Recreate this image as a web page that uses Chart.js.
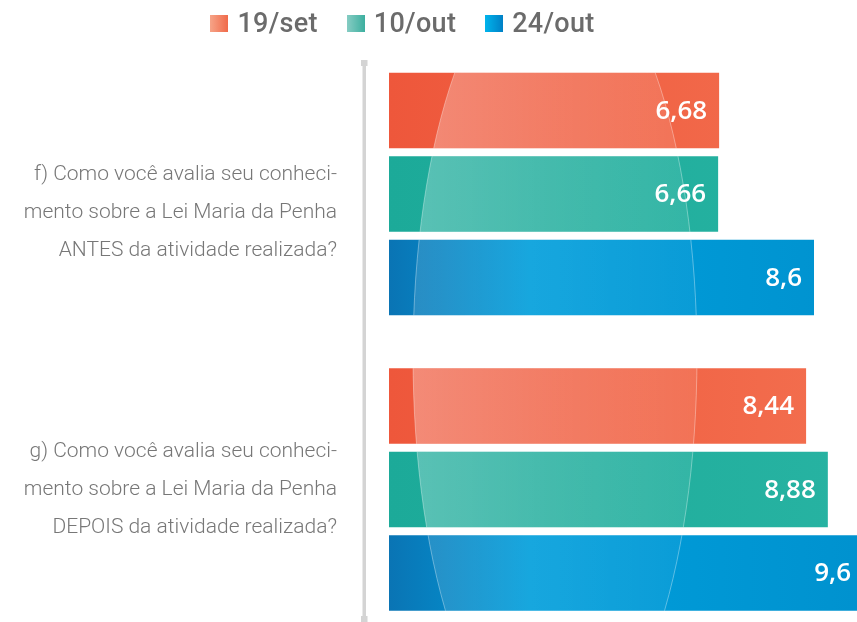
<!DOCTYPE html>
<html>
<head>
<meta charset="utf-8">
<script src="https://cdn.jsdelivr.net/npm/chart.js@4/dist/chart.umd.min.js"></script>
<style>
  html, body { margin: 0; padding: 0; background: #ffffff; }
  #wrap { position: relative; width: 857px; height: 622px; overflow: hidden; }
  #legend { position: absolute; top: 7px; left: 0; width: 805px; display: flex; justify-content: center; gap: 29px;
            font-family: Roboto, sans-serif; font-weight: 500; font-size: 27px; letter-spacing: 0.3px; color: #6b6b6b; z-index: 2; }
  .item { display: flex; align-items: center; }
  .box { width: 18px; height: 17px; margin-right: 9px; }
  canvas { position: absolute; left: 0; top: 0; }
</style>
</head>
<body>
<div id="wrap">
  <div id="legend"></div>
  <canvas id="c" width="857" height="622"></canvas>
</div>
<script>
// ---- data ----
const categories = [
  ["f) Como você avalia seu conheci-", "mento sobre a Lei Maria da Penha", "ANTES da atividade realizada?"],
  ["g) Como você avalia seu conheci-", "mento sobre a Lei Maria da Penha", "DEPOIS da atividade realizada?"]
];
const seriesNames = ["19/set", "10/out", "24/out"];
const set19 = [6.68, 8.44];
const out10 = [6.66, 8.88];
const out24 = [8.6, 9.6];

// ---- styles ----
const gradStops = [
  [[0, "#ee573b"], [1, "#f36f4f"]],
  [[0, "#1caa99"], [1, "#27b3a2"]],
  [[0, "#0a74b4"], [0.3, "#009edb"], [1, "#0092cf"]]
];
const glossStrength = [1, 0.9, 0.45];
const legendGrad = [
  "linear-gradient(to right, #f6a488, #f06a4a)",
  "linear-gradient(to right, #86ccc3, #3caf9f)",
  "linear-gradient(to right, #00b4ec, #0080c6)"
];

const legend = document.getElementById('legend');
seriesNames.forEach((n, i) => {
  const it = document.createElement('div'); it.className = 'item';
  const b = document.createElement('div'); b.className = 'box'; b.style.background = legendGrad[i];
  const t = document.createElement('span'); t.textContent = n;
  it.appendChild(b); it.appendChild(t); legend.appendChild(it);
});

const seriesValues = [set19, out10, out24];

function makeGrad(i) {
  return function(ctx) {
    const chart = ctx.chart; const a = chart.chartArea;
    if (!a) return gradStops[i][0][1];
    const x0 = chart.scales.x.getPixelForValue(0);
    const g = chart.ctx.createLinearGradient(x0, 0, a.right, 0);
    gradStops[i].forEach(s => g.addColorStop(s[0], s[1]));
    return g;
  };
}

const datasets = seriesValues.map((vals, i) => ({
  label: seriesNames[i],
  data: vals.map((v, k) => ({ x: v, y: k })),
  backgroundColor: makeGrad(i),
  borderWidth: 0,
  categoryPercentage: 0.848,
  barPercentage: 0.904
}));

const decor = {
  id: 'decor',
  beforeDatasetsDraw(chart) {
    const { ctx, chartArea: a } = chart;
    ctx.save();
    ctx.fillStyle = '#d4d4d4';
    ctx.fillRect(a.left - 1.5, a.top - 2, 3.5, a.bottom - a.top + 4);
    ctx.fillRect(a.left - 3, a.top - 2, 6.5, 6);
    ctx.fillRect(a.left - 3, a.bottom - 4, 6.5, 6);
    ctx.restore();
  },
  afterDatasetsDraw(chart) {
    const { ctx, chartArea: a } = chart;
    const w = a.right - a.left, h = a.bottom - a.top;
    const cx = a.left + 0.3874 * w, cy = a.top + 0.527 * h;
    const rx = 0.288 * w, ry = 0.717 * h;
    chart.data.datasets.forEach((ds, di) => {
      const s = glossStrength[di];
      chart.getDatasetMeta(di).data.forEach(bar => {
        const top = bar.y - bar.height / 2;
        const left = bar.base, right = Math.min(bar.x, a.right);
        ctx.save();
        ctx.beginPath();
        ctx.rect(left, top, right - left, bar.height);
        ctx.clip();
        const g = ctx.createLinearGradient(cx - rx, 0, cx + rx, 0);
        g.addColorStop(0, 'rgba(255,255,255,' + (0.30 * s) + ')');
        g.addColorStop(0.5, 'rgba(255,255,255,' + (0.18 * s) + ')');
        g.addColorStop(1, 'rgba(255,255,255,' + (0.08 * s) + ')');
        ctx.beginPath();
        ctx.ellipse(cx, cy, rx, ry, 0, 0, Math.PI * 2);
        ctx.fillStyle = g;
        ctx.fill();
        ctx.lineWidth = 1;
        ctx.strokeStyle = 'rgba(255,255,255,0.35)';
        ctx.stroke();
        ctx.restore();
      });
    });
    // value labels
    ctx.save();
    ctx.font = '600 26px "Open Sans", sans-serif';
    ctx.fillStyle = '#ffffff';
    ctx.textAlign = 'right';
    ctx.textBaseline = 'middle';
    chart.data.datasets.forEach((ds, di) => {
      chart.getDatasetMeta(di).data.forEach((bar, k) => {
        const v = ds.data[k].x;
        const x = Math.min(bar.x - 12, a.right - 6);
        ctx.fillText(String(v).replace('.', ','), x, bar.y + 1);
      });
    });
    ctx.restore();
  }
};

new Chart(document.getElementById('c'), {
  type: 'bar',
  data: { datasets },
  options: {
    indexAxis: 'y',
    responsive: false,
    animation: false,
    events: [],
    layout: { padding: { top: 62, bottom: 2, left: 0, right: 0 } },
    plugins: { legend: { display: false }, tooltip: { enabled: false } },
    scales: {
      x: { type: 'linear', min: -0.506, max: 9.47, display: false },
      y: {
        type: 'linear', reverse: true, offset: false, min: -0.4467, max: 1.4416,
        grid: { display: false, drawTicks: false },
        border: { display: false },
        afterFit(s) { s.width = 364; s.paddingTop = 0; s.paddingBottom = 0; },
        afterBuildTicks(s) { s.ticks = categories.map((c, i) => ({ value: i })); },
        ticks: {
          autoSkip: false,
          padding: 27,
          color: '#777777',
          font: { family: 'Roboto', weight: '300', size: 21, lineHeight: 1.81 },
          callback: (v, i) => (i === 0 ? [''].concat(categories[i]) : categories[i])
        }
      }
    }
  },
  plugins: [decor]
});
</script>
</body>
</html>
